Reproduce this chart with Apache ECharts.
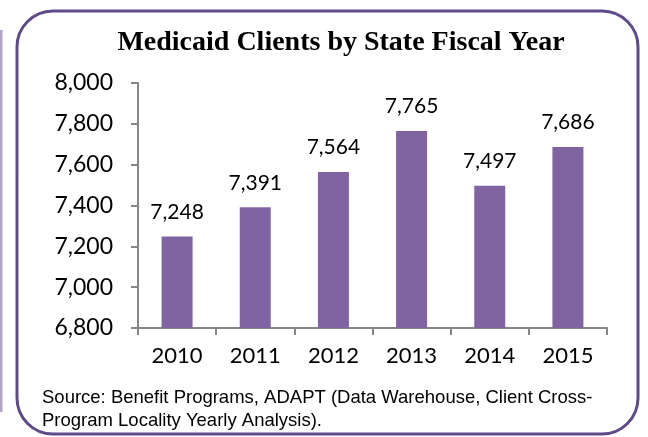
<!DOCTYPE html>
<html>
<head>
<meta charset="utf-8">
<script src="https://cdn.jsdelivr.net/npm/echarts@6/dist/echarts.min.js"></script>
<style>
  html, body { margin: 0; padding: 0; background: #fff; }
  #main { width: 648px; height: 437px; }
</style>
</head>
<body>
<div id="main"></div>
<script>
// chart data
var years = ['2010', '2011', '2012', '2013', '2014', '2015'];
var clients = [7248, 7391, 7564, 7765, 7497, 7686];
var yTicks = { min: 6800, max: 8000, step: 200 };

var titleText = 'Medicaid Clients by State Fiscal Year';
var sourceLines = [
    'Source: Benefit Programs, ADAPT (Data Warehouse, Client Cross-',
    'Program Locality Yearly Analysis).'
];

var purple = '#8064a2';
var frame = '#5f4b8b';

var myChart = echarts.init(document.getElementById('main'));

var option = {
    animation: false,
    grid: { left: 138, top: 83, right: 41, bottom: 109 },
    xAxis: {
        type: 'category',
        data: years,
        axisLine: { lineStyle: { color: '#868686', width: 2 } },
        axisTick: { show: true, length: 7, lineStyle: { color: '#868686', width: 2 } },
        axisLabel: { color: '#000', fontFamily: 'Lato', fontSize: 22, margin: 17 }
    },
    yAxis: {
        type: 'value',
        min: yTicks.min,
        max: yTicks.max,
        interval: yTicks.step,
        splitLine: { show: false },
        axisLine: { show: true, lineStyle: { color: '#868686', width: 2 } },
        axisTick: { show: true, length: 7, lineStyle: { color: '#868686', width: 2 } },
        axisLabel: {
            color: '#000', fontFamily: 'Lato', fontSize: 23, margin: 25,
            formatter: function (v) { return v.toLocaleString('en-US'); }
        }
    },
    series: [{
        type: 'bar',
        data: clients,
        barWidth: 31,
        itemStyle: { color: purple },
        label: {
            show: true,
            position: 'top',
            distance: 14,
            color: '#000',
            fontFamily: 'Lato',
            fontSize: 21,
            formatter: function (p) { return p.value.toLocaleString('en-US'); }
        }
    }],
    graphic: [
        // rounded frame
        {
            type: 'rect', z: -1,
            shape: { x: 17, y: 11, width: 621, height: 423, r: 36 },
            style: { fill: 'none', stroke: frame, lineWidth: 3 }
        },
        // faint edge of the neighbouring box
        {
            type: 'line',
            shape: { x1: 1, y1: 30, x2: 1, y2: 412 },
            style: { stroke: '#b3a2c7', lineWidth: 3 }
        },
        {
            type: 'text', x: 341, y: 43,
            style: {
                text: titleText, textAlign: 'center', textVerticalAlign: 'middle',
                font: 'bold 28px "Liberation Serif"', fill: '#000'
            }
        },
        {
            type: 'text', x: 42, y: 386,
            style: {
                text: sourceLines.join('\n'), lineHeight: 23,
                font: '18.5px "Liberation Sans"', fill: '#000'
            }
        }
    ]
};

myChart.setOption(option);
</script>
</body>
</html>
